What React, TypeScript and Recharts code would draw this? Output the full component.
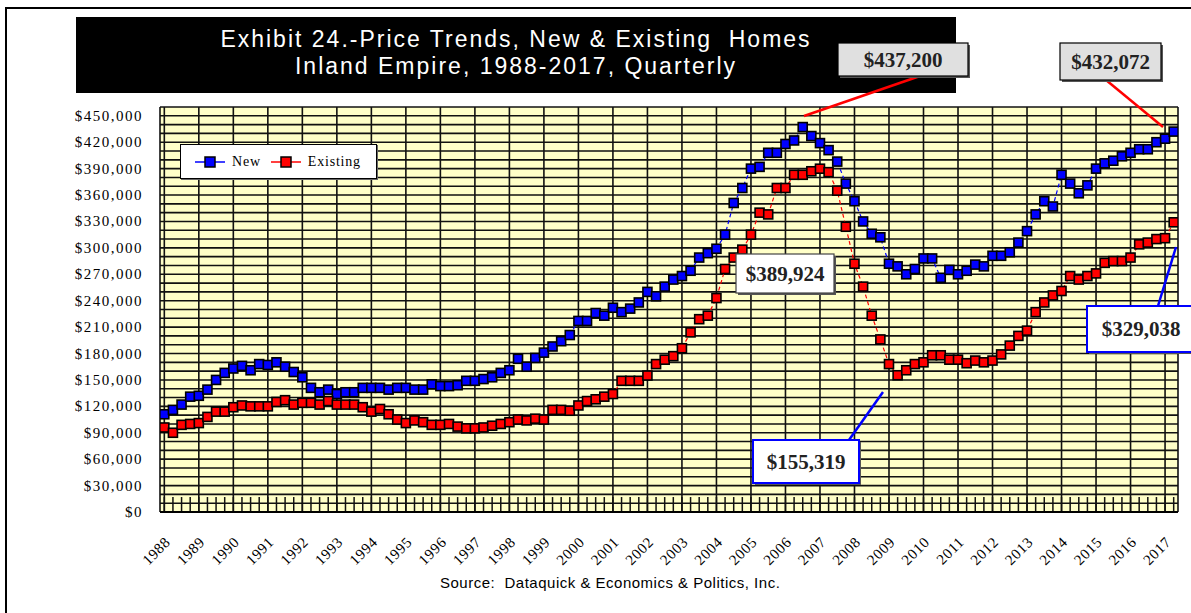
import React from 'react';
import { LineChart, Line, XAxis, YAxis, CartesianGrid, ReferenceLine, Legend } from 'recharts';

const years = [
  '1988', '1989', '1990', '1991', '1992', '1993', '1994', '1995', '1996', '1997',
  '1998', '1999', '2000', '2001', '2002', '2003', '2004', '2005', '2006', '2007',
  '2008', '2009', '2010', '2011', '2012', '2013', '2014', '2015', '2016', '2017',
];

// 1988 Q1 .. 2017 Q2
const quarters = years.flatMap((y) => ['Q1', 'Q2', 'Q3', 'Q4'].map((q) => `${y} ${q}`)).slice(0, 118);

const newHomes = [
  111000, 116000, 122000, 131000, 132000, 139000, 150000, 158000,
  163000, 166000, 161000, 168000, 167000, 170000, 165000, 159000,
  153000, 141000, 136000, 139000, 134000, 136000, 136000, 141000,
  141000, 141000, 139000, 141000, 141000, 139000, 139000, 145000,
  143000, 143000, 144000, 149000, 149000, 151000, 153000, 158000,
  161000, 174000, 165000, 175000, 181000, 188000, 194000, 201000,
  217000, 217000, 226000, 223000, 232000, 227000, 231000, 238000,
  250000, 245000, 256000, 264000, 268000, 274000, 289000, 294000,
  299000, 315000, 351000, 368000, 390000, 392000, 408000, 408000,
  418000, 422000, 437200, 427000, 419000, 411000, 398000, 373000,
  353000, 330000, 316000, 312000, 282000, 279000, 270000, 276000,
  288000, 288000, 266000, 275000, 270000, 274000, 281000, 279000,
  291000, 291000, 295000, 306000, 319000, 338000, 353000, 347000,
  383000, 373000, 362000, 371000, 390000, 396000, 399000, 404000,
  408000, 412000, 412000, 420000, 424000, 432072,
];

const existingHomes = [
  96000, 90000, 99000, 100000, 101000, 108000, 114000, 114000,
  119000, 121000, 120000, 120000, 120000, 125000, 127000, 122000,
  124000, 124000, 122000, 126000, 122000, 122000, 122000, 119000,
  114000, 117000, 111000, 105000, 101000, 104000, 102000, 99000,
  99000, 100000, 97000, 95000, 95000, 96000, 98000, 100000,
  102000, 105000, 104000, 106000, 105000, 116000, 116000, 115000,
  121000, 126000, 128000, 131000, 134000, 149000, 149000, 149000,
  155000, 168000, 173000, 177000, 186000, 204000, 219000, 223000,
  243000, 276000, 289000, 298000, 315000, 340000, 338000, 368000,
  368000, 383000, 383000, 387000, 389924, 386000, 365000, 324000,
  282000, 256000, 223000, 196000, 168000, 155319, 161000, 168000,
  170000, 178000, 178000, 173000, 173000, 169000, 172000, 170000,
  172000, 179000, 189000, 200000, 206000, 227000, 238000, 246000,
  251000, 268000, 264000, 268000, 271000, 283000, 285000, 285000,
  289000, 304000, 306000, 310000, 311000, 329038,
];

const seriesNames = ['New', 'Existing'];
const yTicks = [0, 30000, 60000, 90000, 120000, 150000, 180000, 210000, 240000, 270000, 300000, 330000, 360000, 390000, 420000, 450000];
const gridY = Array.from({ length: 47 }, (_, i) => i * 10000);
const yearTicks = years.map((_, i) => i * 4);
const gridX = [-0.5, ...yearTicks, 117.5];

const data = quarters.map((q, i) => ({
  idx: i,
  quarter: q,
  newHomes: newHomes[i],
  existing: existingHomes[i],
}));

const SERIF = '"Liberation Serif", "Times New Roman", serif';
const SANS = '"Liberation Sans", Arial, sans-serif';

const fmt = (v: number) => '$' + v.toLocaleString('en-US');

const square = (fill: string) => (props: any) => {
  const { cx, cy, index } = props;
  if (cx == null || cy == null) return <g key={index} />;
  return <rect key={index} x={cx - 4.5} y={cy - 4.5} width={9} height={9} fill={fill} stroke="#000" strokeWidth={1.6} />;
};

const YearTick = (props: any) => {
  const { x, y, payload } = props;
  const tx = x + 7;
  const ty = y + 31;
  return (
    <text x={tx} y={ty} transform={`rotate(-45 ${tx} ${ty})`} textAnchor="end" fontFamily={SERIF} fontSize={15} letterSpacing={0.6} fill="#000">
      {years[payload.value / 4]}
    </text>
  );
};

const MoneyTick = (props: any) => {
  const { x, y, payload } = props;
  return (
    <text x={x} y={y + 5} textAnchor="end" fontFamily={SERIF} fontSize={15} letterSpacing={1.5} fill="#000">
      {fmt(payload.value)}
    </text>
  );
};

const LegendBox = (props: any) => {
  const items = [...(props.payload || [])].sort((a: any, b: any) => seriesNames.indexOf(a.value) - seriesNames.indexOf(b.value));
  return (
    <div style={{ width: 181, height: 33, background: '#fff', border: '1px solid #000', boxShadow: '1px 1px 0 #666', display: 'flex', alignItems: 'center', paddingLeft: 14, boxSizing: 'content-box', fontFamily: SERIF, fontSize: 14, letterSpacing: 0.8 }}>
      {items.map((p: any, i: number) => (
        <span key={i} style={{ display: 'flex', alignItems: 'center', marginRight: 10 }}>
          <svg width={30} height={12} style={{ marginRight: 7 }}>
            <line x1={0} y1={6} x2={30} y2={6} stroke={p.color} strokeWidth={1.5} />
            <rect x={10} y={1} width={10} height={10} fill={p.color} stroke="#000" strokeWidth={1.5} />
          </svg>
          <span>{p.value}</span>
        </span>
      ))}
    </div>
  );
};

const callouts = [
  { text: '$437,200', x: 838, y: 43, w: 130, h: 33, fill: '#E0E0E0', border: '#000', line: [920, 76, 804, 116], lineColor: '#FF0000' },
  { text: '$432,072', x: 1060, y: 43, w: 101, h: 37, fill: '#E0E0E0', border: '#000', line: [1106, 80, 1163, 127], lineColor: '#FF0000' },
  { text: '$389,924', x: 736, y: 254, w: 98, h: 39, fill: '#FFFFFF', border: '#444', line: null, lineColor: '' },
  { text: '$155,319', x: 753, y: 440, w: 106, h: 43, fill: '#FFFFFF', border: '#0000FF', line: [849, 440, 883, 392], lineColor: '#0000FF' },
  { text: '$329,038', x: 1087, y: 306, w: 108, h: 46, fill: '#FFFFFF', border: '#0000FF', line: [1158, 306, 1176, 247], lineColor: '#0000FF' },
];

export default function App() {
  return (
    <div style={{ position: 'absolute', left: 0, top: 0, width: 1191, height: 613, background: '#fff', overflow: 'hidden' }}>
      <div style={{ position: 'absolute', left: 5, top: 7, width: 1200, height: 620, borderTop: '2px solid #000', borderLeft: '2px solid #000' }} />
      <div style={{ position: 'absolute', left: 0, top: 0 }}>
        <LineChart width={1191} height={613} data={data} margin={{ top: 107, right: 13, bottom: 41, left: 0 }}>
          <CartesianGrid horizontalValues={gridY} verticalValues={gridX} stroke="#111" strokeWidth={1.6} fill="#FFFFC8" fillOpacity={1} />
          <XAxis
            type="number"
            dataKey="idx"
            domain={[-0.5, 117.5]}
            ticks={yearTicks}
            interval={0}
            allowDataOverflow
            tick={(p: any) => <YearTick {...p} />}
            tickLine={false}
            tickSize={0}
            tickMargin={0}
            axisLine={{ stroke: '#000', strokeWidth: 2 }}
            height={60}
          />
          <YAxis
            domain={[0, 460000]}
            ticks={yTicks}
            interval={0}
            allowDataOverflow
            tick={(p: any) => <MoneyTick {...p} />}
            tickLine={false}
            tickSize={0}
            tickMargin={17}
            axisLine={false}
            width={160}
          />
          {data.map((d) => (
            <ReferenceLine key={d.idx} segment={[{ x: d.idx, y: 0 }, { x: d.idx, y: 17000 }]} stroke="#111" strokeWidth={1.5} />
          ))}
          <Legend layout="vertical" verticalAlign="middle" align="center" content={<LegendBox />} wrapperStyle={{ left: 180, top: 144, width: 'auto', height: 'auto' }} />
          <Line type="linear" dataKey="newHomes" name="New" stroke="#0000FF" strokeWidth={1.2} strokeDasharray="4 3" dot={square('#0000FF')} activeDot={false} isAnimationActive={false} />
          <Line type="linear" dataKey="existing" name="Existing" stroke="#FF0000" strokeWidth={1.2} strokeDasharray="4 3" dot={square('#FF0000')} activeDot={false} isAnimationActive={false} />
        </LineChart>
      </div>
      <svg width={1191} height={613} style={{ position: 'absolute', left: 0, top: 0, pointerEvents: 'none' }}>
        <rect x={76} y={17} width={880} height={76} fill="#000" />
        <text x={516} y={47} textAnchor="middle" fontFamily={SANS} fontSize={23} letterSpacing={2} fill="#fff" style={{ whiteSpace: 'pre' }}>
          {'Exhibit 24.-Price Trends, New & Existing  Homes'}
        </text>
        <text x={516} y={74} textAnchor="middle" fontFamily={SANS} fontSize={23} letterSpacing={2} fill="#fff" style={{ whiteSpace: 'pre' }}>
          {'Inland Empire, 1988-2017, Quarterly'}
        </text>
        {callouts.map((c, i) => (
          <g key={i}>
            {c.line && <line x1={c.line[0]} y1={c.line[1]} x2={c.line[2]} y2={c.line[3]} stroke={c.lineColor} strokeWidth={2.5} />}
            <rect x={c.x + 2} y={c.y + 2} width={c.w} height={c.h} fill="#555" />
            <rect x={c.x} y={c.y} width={c.w} height={c.h} fill={c.fill} stroke={c.border} strokeWidth={c.border === '#0000FF' ? 2 : 1.2} />
            <text x={c.x + c.w / 2} y={c.y + c.h / 2 + 7} textAnchor="middle" fontFamily={SERIF} fontWeight="bold" fontSize={21} fill="#222">
              {c.text}
            </text>
          </g>
        ))}
        <text x={440} y={588} fontFamily={SANS} fontSize={15} letterSpacing={0.5} fill="#000" style={{ whiteSpace: 'pre' }}>
          {'Source:  Dataquick & Economics & Politics, Inc.'}
        </text>
      </svg>
    </div>
  );
}
